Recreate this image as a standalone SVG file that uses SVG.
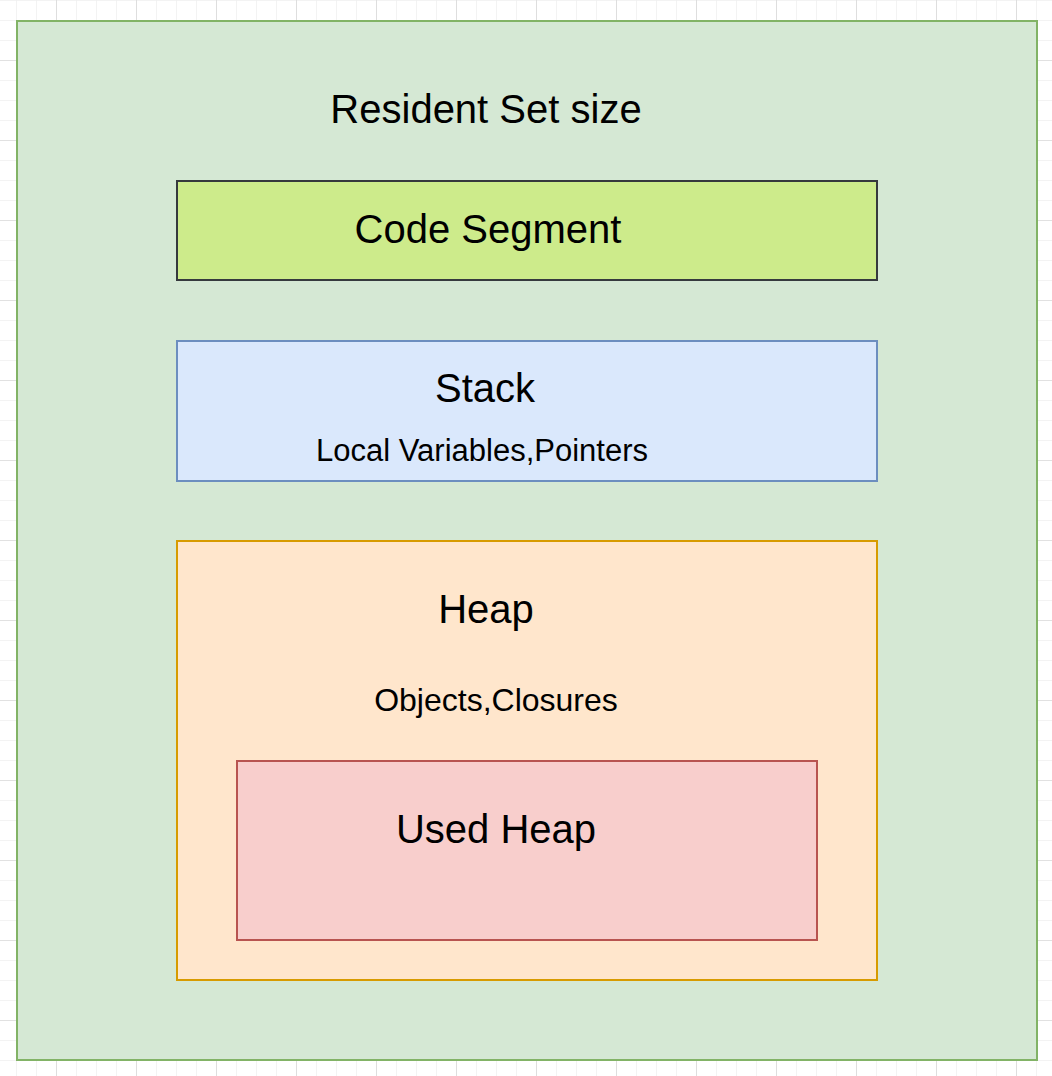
<svg xmlns="http://www.w3.org/2000/svg" width="1052" height="1076" viewBox="0 0 1052 1076">
  <defs>
    <pattern id="minor" x="16" y="0" width="20" height="20" patternUnits="userSpaceOnUse">
      <path d="M0 0H20M0 0V20" fill="none" stroke="#f0f0f0" stroke-width="1.5"/>
    </pattern>
    <pattern id="major" x="56" y="60" width="80" height="80" patternUnits="userSpaceOnUse">
      <path d="M0 0H80M0 0V80" fill="none" stroke="#d0d0d0" stroke-width="1.2"/>
    </pattern>
  </defs>
  <style>
    text { font-family: "Liberation Sans", Arial, sans-serif; fill: #000000; text-anchor: middle; }
    .big { font-size: 40px; }
    .small { font-size: 31px; }
    rect.node { stroke-width: 2; }
  </style>
  <rect width="1052" height="1076" fill="#ffffff"/>
  <rect width="1052" height="1076" fill="url(#minor)"/>
  <rect width="1052" height="1076" fill="url(#major)"/>
  <g id="rss">
    <rect class="node" x="17" y="21" width="1020" height="1039" fill="#d5e8d4" stroke="#82b366"/>
    <text class="big" x="486" y="123">Resident Set size</text>
  </g>
  <g id="code-segment">
    <rect class="node" x="177" y="181" width="700" height="99" fill="#cdeb8b" stroke="#36393d"/>
    <text class="big" x="488" y="243">Code Segment</text>
  </g>
  <g id="stack">
    <rect class="node" x="177" y="341" width="700" height="140" fill="#dae8fc" stroke="#6c8ebf"/>
    <text class="big" x="485" y="402">Stack</text>
    <text class="small" x="482" y="461">Local Variables,Pointers</text>
  </g>
  <g id="heap">
    <rect class="node" x="177" y="541" width="700" height="439" fill="#ffe6cc" stroke="#d79b00"/>
    <text class="big" x="486" y="623">Heap</text>
    <text class="small" x="496" y="711" style="font-size:32px">Objects,Closures</text>
  </g>
  <g id="used-heap">
    <rect class="node" x="237" y="761" width="580" height="179" fill="#f8cecc" stroke="#b85450"/>
    <text class="big" x="496" y="843">Used Heap</text>
  </g>
  <g id="connectors"/>
</svg>
